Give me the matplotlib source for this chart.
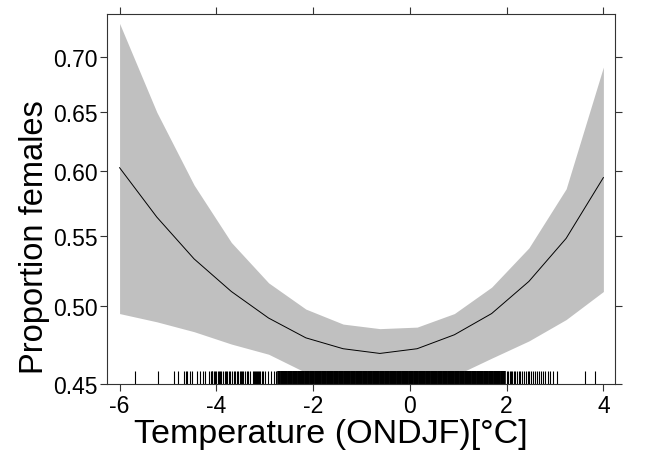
import numpy as np
import matplotlib
matplotlib.use("Agg")
import matplotlib.pyplot as plt
from matplotlib.ticker import NullLocator

plt.rcParams['font.family'] = ['Liberation Sans', 'DejaVu Sans']

# fitted curve and confidence band
temp = [-6.0, -5.23, -4.46, -3.69, -2.92, -2.15, -1.38, -0.62, 0.15, 0.92, 1.69, 2.46, 3.23, 4.0]
fit = [0.603, 0.564, 0.533, 0.510, 0.492, 0.479, 0.472, 0.469, 0.472, 0.481, 0.495, 0.517, 0.548, 0.595]
upper = [0.733, 0.650, 0.589, 0.545, 0.516, 0.498, 0.488, 0.485, 0.486, 0.495, 0.513, 0.541, 0.586, 0.691]
lower = [0.495, 0.4895, 0.483, 0.475, 0.4685, 0.457, 0.454, 0.452, 0.453, 0.455, 0.466, 0.477, 0.491, 0.510]

# rug of observed temperatures
rug_sparse = [-5.68, -5.20, -4.88, -4.79, -4.67, -4.63, -4.60, -4.55, -4.50, -4.41, -4.33, -4.28, -4.24,
              -4.15, -4.12, -4.10, -4.08, -4.05, -4.03, -4.00, -3.97, -3.95, -3.92, -3.90, -3.86, -3.83,
              -3.80, -3.77, -3.74, -3.71, -3.68, -3.64, -3.62, -3.58, -3.55, -3.52, -3.49, -3.46, -3.44,
              -3.40, -3.37, -3.34, -3.31, -3.24, -3.22, -3.20, -3.17, -3.15, -3.13, -3.11, -3.09, -3.06,
              -3.03, -3.00, -2.93, -2.88, -2.81, -2.77,
              2.00, 2.03, 2.06, 2.09, 2.12, 2.15, 2.18, 2.21, 2.25, 2.28, 2.32, 2.36, 2.40, 2.44, 2.47,
              2.51, 2.55, 2.59, 2.63, 2.67, 2.72, 2.76, 2.80, 2.85, 2.90, 2.96, 3.04, 3.62, 3.83]
rug_dense = [-2.70, -2.65, -2.60, -2.55, -2.50, -2.45, -2.40, -2.35, -2.30, -2.25, -2.20, -2.15, -2.10,
             -2.05, -2.00, -1.95, -1.90, -1.85, -1.80, -1.75, -1.70, -1.65, -1.60, -1.55, -1.50, -1.45,
             -1.40, -1.35, -1.30, -1.25, -1.20, -1.15, -1.10, -1.05, -1.00, -0.95, -0.90, -0.85, -0.80,
             -0.75, -0.70, -0.65, -0.60, -0.55, -0.50, -0.45, -0.40, -0.35, -0.30, -0.25, -0.20, -0.15,
             -0.10, -0.05, 0.00, 0.05, 0.10, 0.15, 0.20, 0.25, 0.30, 0.35, 0.40, 0.45, 0.50, 0.55, 0.60,
             0.65, 0.70, 0.75, 0.80, 0.85, 0.90, 0.95, 1.00, 1.05, 1.10, 1.15, 1.20, 1.25, 1.30, 1.35,
             1.40, 1.45, 1.50, 1.55, 1.60, 1.65, 1.70, 1.75, 1.80, 1.85, 1.90, 1.95]

xticks = [-6, -4, -2, 0, 2, 4]
yticks = [0.45, 0.50, 0.55, 0.60, 0.65, 0.70]
ytick_labels = ['0.45', '0.50', '0.55', '0.60', '0.65', '0.70']

fig = plt.figure(figsize=(6.51, 4.56), dpi=100)
ax = fig.add_axes([107/651, 1 - 385/456, (615-107)/651, (385-15)/456])

ax.fill_between(temp, lower, upper, color='#c0c0c0', linewidth=0)
ax.plot(temp, fit, color='black', linewidth=0.7)

# rug along the bottom
trans = ax.get_xaxis_transform()
ax.vlines(rug_sparse, 0, 0.036, transform=trans, color='black', linewidth=0.8)
ax.vlines(rug_dense, 0, 0.036, transform=trans, color='black', linewidth=2.6)

ax.set_yscale('log')
ax.set_xlim(-6.26, 4.24)
ax.set_ylim(0.4502, 0.7424)
ax.set_xticks(xticks)
ax.set_xticklabels([str(t) for t in xticks])
ax.set_yticks(yticks)
ax.set_yticklabels(ytick_labels)
ax.yaxis.set_minor_locator(NullLocator())
ax.xaxis.set_minor_locator(NullLocator())

ax.tick_params(direction='out', length=5, width=0.8, color='#333333', labelsize=16.5,
               top=True, right=True, labeltop=False, labelright=False)
ax.tick_params(axis='x', pad=2)
ax.tick_params(axis='y', pad=2)
for s in ax.spines.values():
    s.set_color('#333333')
    s.set_linewidth(0.8)

# axis titles sit centred on the figure, not the panel
fig.text(331/651, 1 - 443/456, 'Temperature (ONDJF)[°C]', fontsize=24.5, ha='center', va='baseline')
fig.text(35/651, 1 - 237/456, 'Proportion females', fontsize=23.5, ha='center', va='center', rotation=90)

fig.savefig('out.png', dpi=100)
